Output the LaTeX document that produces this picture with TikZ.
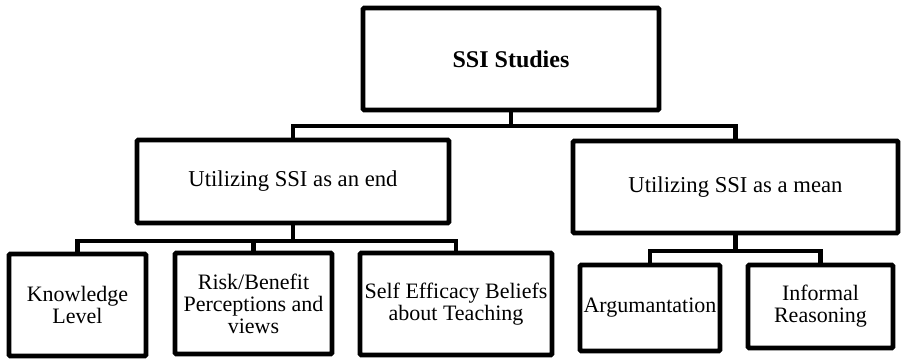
\documentclass[tikz,border=0pt]{standalone}
\usepackage{fontspec}
\setmainfont{Liberation Serif}
\begin{document}
\begin{tikzpicture}[x=0.75pt,y=-0.75pt,
  box/.style={draw=black,line width=3.5pt,rectangle,inner sep=0pt,align=center,rounded corners=0.8pt},
  leaf/.style={box,font=\fontsize{16.5}{16.5}\selectfont},
  mid/.style={box,font=\fontsize{17}{19}\selectfont},
  conn/.style={draw=black,line width=3.5pt}]
\useasboundingbox (0,0) rectangle (902,359);
\node[box,font=\fontsize{18}{20}\selectfont\bfseries,minimum width=296*0.75pt,minimum height=102*0.75pt] (top) at (511,59) {SSI Studies};
\node[mid,minimum width=312*0.75pt,minimum height=83*0.75pt] (endbox) at (293,181.5) {Utilizing SSI as an end};
\node[mid,minimum width=325*0.75pt,minimum height=92*0.75pt] (meanbox) at (735.5,187) {Utilizing SSI as a mean};
\node[leaf,minimum width=137*0.75pt,minimum height=102*0.75pt] (know) at (77.5,305) {Knowledge\\Level};
\node[leaf,minimum width=157*0.75pt,minimum height=101*0.75pt] (risk) at (253.5,303.5) {Risk/Benefit\\Perceptions and\\views};
\node[leaf,minimum width=192*0.75pt,minimum height=102*0.75pt] (self) at (456,304) {Self Efficacy Beliefs\\about Teaching};
\node[leaf,minimum width=140*0.75pt,minimum height=86*0.75pt] (arg) at (650,308) {Argumantation};
\node[leaf,minimum width=145*0.75pt,minimum height=83*0.75pt] (inf) at (820.5,306.5) {Informal\\Reasoning};
\coordinate (b1) at (511,126);
\coordinate (b2) at (293,241);
\coordinate (b3) at (735.5,251);
\draw[conn] (top.south) -- (b1);
\draw[conn] (endbox.north) |- (b1) -| (meanbox.north);
\draw[conn] (endbox.south) -- (b2);
\draw[conn] (know.north) |- (b2) -| (self.north);
\draw[conn] (risk.north) |- (b2);
\draw[conn] (meanbox.south) -- (b3);
\draw[conn] (arg.north) |- (b3) -| (inf.north);
\end{tikzpicture}
\end{document}
